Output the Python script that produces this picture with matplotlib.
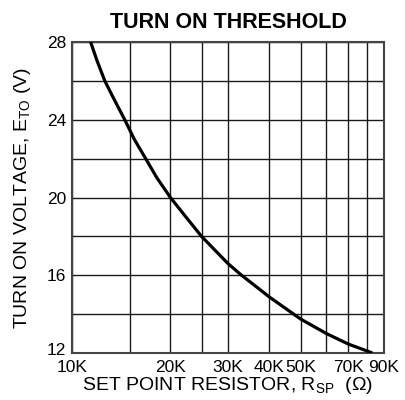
import matplotlib
matplotlib.use('Agg')
import matplotlib.pyplot as plt
import matplotlib.transforms as mtransforms
from matplotlib.ticker import FixedLocator, NullLocator, NullFormatter

plt.rcParams['font.family'] = ['Liberation Sans', 'DejaVu Sans']
plt.rcParams['mathtext.default'] = 'regular'

# curve (resistance in ohms, voltage in V)
r_sp = [11400, 11950, 12600, 13500, 14500, 15500, 16800, 18200, 20000,
        22300, 24900, 30000, 33000, 37000, 40000, 50000, 60000, 70000,
        80000, 82900]
e_to = [28.0, 27.0, 26.0, 25.0, 24.0, 23.0, 22.0, 21.0, 20.0,
        19.0, 18.0, 16.6, 16.0, 15.35, 14.9, 13.75, 13.0, 12.46,
        12.1, 12.0]

x_grid = [10000, 15000, 20000, 25000, 30000, 40000, 50000, 60000, 70000, 80000, 90000]
x_ticks = [10000, 20000, 30000, 40000, 50000, 70000, 90000]
x_labels = ['10K', '20K', '30K', '40K', '50K', '70K', '90K']
y_grid = [12, 14, 16, 18, 20, 22, 24, 26, 28]
y_ticks = [12, 16, 20, 24, 28]

fig = plt.figure(figsize=(4.06, 4.0), dpi=100)
ax = fig.add_axes([72/406, 47/400, 312/406, 311/400])

ax.set_xscale('log')
ax.set_xlim(10000, 90000)
ax.set_ylim(12, 28)

# grid drawn by hand so it follows the odd log divisions
for g in x_grid:
    ax.axvline(g, color='#1a1a1a', lw=1.0, zorder=1)
for g in y_grid:
    ax.axhline(g, color='#1a1a1a', lw=1.0, zorder=1)

ax.plot(r_sp, e_to, color='black', lw=2.3, zorder=3,
        solid_capstyle='butt', solid_joinstyle='round')

ax.xaxis.set_major_locator(FixedLocator(x_ticks))
ax.xaxis.set_minor_locator(NullLocator())
ax.xaxis.set_minor_formatter(NullFormatter())
ax.set_xticklabels(x_labels)
ax.set_yticks(y_ticks)
ax.tick_params(axis='both', length=0, labelsize=12.5)
ax.tick_params(axis='x', pad=5)
ax.tick_params(axis='y', pad=4)

# lift the bottom "12" a little like in the original
lbl = ax.get_yticklabels()[0]
lbl.set_transform(lbl.get_transform() + mtransforms.ScaledTranslation(0, 4/100, fig.dpi_scale_trans))

for s in ax.spines.values():
    s.set_color('#444444')
    s.set_linewidth(1.5)

ax.set_xlabel('SET POINT RESISTOR, R$_{SP}$  ($\\Omega$)', fontsize=14, labelpad=0)
ax.set_ylabel('TURN ON VOLTAGE, E$_{TO}$ (V)', fontsize=14, labelpad=10)
ax.set_title('TURN ON THRESHOLD', fontsize=15.5, fontweight='bold', pad=10)

plt.savefig('out.png', dpi=100)
plt.close()
